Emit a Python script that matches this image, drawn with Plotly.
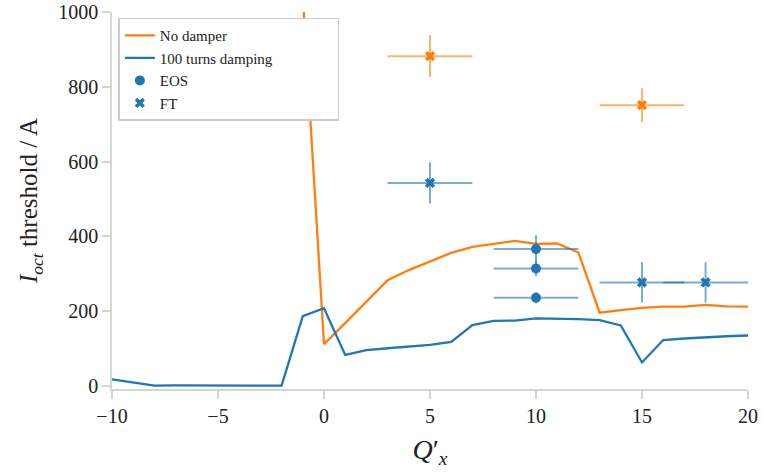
import plotly.graph_objects as go

# ---- data ----
qx_nodamp = list(range(-1, 21))
i_nodamp = [1045, 112, 168, 226, 283, 310, 334, 356, 372, 380, 388, 380, 381, 357,
            196, 203, 209, 212, 212, 217, 213, 212]

qx_damp = list(range(-10, 21))
i_damp = [18, 9, 1, 1.5, 1, 1, 1, 1, 1, 187, 208, 83, 96, 101, 105, 110, 118, 163,
          174, 175, 181, 181, 179, 176, 162, 63, 123, 127, 131, 133, 135]

eos_x = [10, 10, 10]
eos_y = [366, 314, 236]
eos_xerr = [2, 2, 2]
eos_yerr = [37, 20, 15]

ft_x = [5, 15, 18]
ft_y = [543, 277, 277]
ft_xerr = [2, 2, 2]
ft_yerr = [55, 54, 54]

ft_nd_x = [5, 15]
ft_nd_y = [882, 751]
ft_nd_xerr = [2, 2]
ft_nd_yerr = [56, 45]

ORANGE = "#ff7f0e"
BLUE = "#1f77b4"
ORANGE_A = "rgba(255,127,14,0.6)"
BLUE_A = "rgba(31,119,180,0.6)"
AX = "#d3d7d3"
PAD = "\u00a0" * 16

fig = go.Figure()
fig.add_trace(go.Scatter(x=qx_nodamp, y=i_nodamp, mode="lines", name="No damper",
                         line=dict(color=ORANGE, width=2.3)))
fig.add_trace(go.Scatter(x=qx_damp, y=i_damp, mode="lines", name="100 turns damping" + PAD,
                         line=dict(color=BLUE, width=2.3)))
fig.add_trace(go.Scatter(x=eos_x, y=eos_y, mode="markers", name="EOS",
                         marker=dict(color=BLUE, size=10, symbol="circle"),
                         error_x=dict(type="data", array=eos_xerr, color=BLUE_A, thickness=2, width=0),
                         error_y=dict(type="data", array=eos_yerr, color=BLUE_A, thickness=2, width=0)))
fig.add_trace(go.Scatter(x=ft_x, y=ft_y, mode="markers", name="FT",
                         marker=dict(color=BLUE, size=9, symbol="x"),
                         error_x=dict(type="data", array=ft_xerr, color=BLUE_A, thickness=2, width=0),
                         error_y=dict(type="data", array=ft_yerr, color=BLUE_A, thickness=2, width=0)))
fig.add_trace(go.Scatter(x=ft_nd_x, y=ft_nd_y, mode="markers", name="FT", showlegend=False,
                         marker=dict(color=ORANGE, size=9, symbol="x"),
                         error_x=dict(type="data", array=ft_nd_xerr, color=ORANGE_A, thickness=2, width=0),
                         error_y=dict(type="data", array=ft_nd_yerr, color=ORANGE_A, thickness=2, width=0)))

axis_common = dict(showline=True, linecolor=AX, linewidth=1.6, ticks="outside",
                   ticklen=8, tickwidth=1.6, tickcolor=AX, showgrid=False, zeroline=False,
                   automargin=False,
                   tickfont=dict(family="Liberation Serif", size=20, color="#222"))

fig.update_layout(
    width=763, height=474,
    margin=dict(l=112, r=15, t=12, b=85),
    plot_bgcolor="white", paper_bgcolor="white",
    font=dict(family="Liberation Serif", color="#222"),
    xaxis=dict(range=[-10, 20], tickvals=[-10, -5, 0, 5, 10, 15, 20],
               ticktext=["\u221210", "\u22125", "0", "5", "10", "15", "20"],
               title=dict(text="<i>Q</i>\u2032<sub><i>x</i></sub>", font=dict(size=28), standoff=14),
               **axis_common),
    yaxis=dict(range=[-8, 1000], tickvals=[0, 200, 400, 600, 800, 1000],
               title=dict(text="<i>I<sub>oct</sub></i> threshold / A", font=dict(size=25), standoff=13),
               **axis_common),
    legend=dict(x=0.01, y=0.985, xanchor="left", yanchor="top",
                bgcolor="white", bordercolor="#cccccc", borderwidth=1.5,
                font=dict(family="Liberation Serif", size=15, color="#222"),
                tracegroupgap=2),
    showlegend=True,
)

fig.write_html("out.html", config={"displayModeBar": False},
               post_script="document.body.style.margin='0';")
